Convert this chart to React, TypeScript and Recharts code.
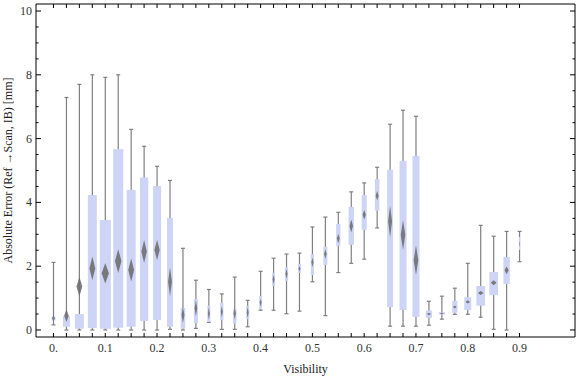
import React from "react";
import { ComposedChart, Bar, Line, XAxis, YAxis } from "recharts";

// visibility bins (x categories)
const visibility = [
  0, 0.025, 0.05, 0.075, 0.1, 0.125, 0.15, 0.175, 0.2, 0.225, 0.25, 0.275,
  0.3, 0.325, 0.35, 0.375, 0.4, 0.425, 0.45, 0.475, 0.5, 0.525, 0.55, 0.575,
  0.6, 0.625, 0.65, 0.675, 0.7, 0.725, 0.75, 0.775, 0.8, 0.825, 0.85, 0.875, 0.9,
];

// whisker ends, quartiles, mean and mean confidence half-width (mm)
const whiskerLow = [
  0.16, 0, 0, 0, 0, 0, 0, 0, 0, 0.02, 0, 0.05, 0.24, 0.02, 0.02, 0.1, 0.62,
  0.62, 0.51, 0.59, 1.51, 0.45, 1.8, 2.09, 2.22, 3.2, 0.12, 0.12, 0.12, 0.15,
  0.34, 0.49, 0.49, 0.4, 0.02, 0, 2.14,
];
const quartile1 = [
  0.3, 0.1, 0.04, 0.06, 0.04, 0.07, 0.1, 0.28, 0.31, 0.1, 0.04, 0.22, 0.25,
  0.31, 0.2, 0.34, 0.65, 1.39, 1.54, 1.79, 1.72, 2.04, 2.64, 2.67, 3.14, 3.74,
  0.72, 0.63, 0.41, 0.38, 0.48, 0.54, 0.63, 0.76, 1.09, 1.44, 2.51,
];
const meanValue = [
  0.37, 0.45, 1.36, 1.93, 1.78, 2.16, 1.88, 2.46, 2.51, 1.51, 0.47, 0.68, 0.52,
  0.57, 0.52, 0.55, 0.86, 1.58, 1.76, 1.92, 2.12, 2.38, 2.87, 3.26, 3.61, 4.21,
  3.4, 2.98, 2.19, 0.5, 0.52, 0.72, 0.88, 1.16, 1.48, 1.87, 2.7,
];
const quartile3 = [
  0.42, 0.44, 0.5, 4.23, 3.45, 5.67, 4.39, 4.78, 4.51, 3.51, 0.69, 0.97, 0.76,
  0.85, 0.66, 0.75, 1.07, 1.79, 1.97, 2.07, 2.38, 2.61, 3.32, 3.86, 4.23, 4.73,
  5.02, 5.3, 5.45, 0.61, 0.56, 0.91, 1.03, 1.38, 1.82, 2.29, 2.92,
];
const whiskerHigh = [
  2.12, 7.29, 7.7, 8.0, 7.92, 8.0, 6.29, 5.76, 5.13, 4.69, 2.56, 1.56, 1.27,
  1.13, 1.66, 0.93, 1.84, 2.25, 2.38, 2.41, 3.23, 3.54, 3.69, 4.33, 4.61, 5.1,
  6.45, 6.89, 6.7, 0.9, 1.06, 1.31, 2.09, 3.28, 2.94, 3.09, 3.09,
];
const meanCI = [
  0.1, 0.2, 0.3, 0.37, 0.32, 0.37, 0.36, 0.36, 0.32, 0.45, 0.25, 0.25, 0.2,
  0.18, 0.2, 0.18, 0.12, 0.15, 0.15, 0.08, 0.15, 0.15, 0.15, 0.2, 0.15, 0.15,
  0.5, 0.47, 0.47, 0.04, 0.03, 0.05, 0.05, 0.06, 0.08, 0.12, 0.1,
];
// relative sample weight of each bin (drives box width)
const sampleWeight = [
  0.31, 0.54, 0.69, 0.69, 0.85, 0.77, 0.69, 0.64, 0.62, 0.46, 0.35, 0.31, 0.23,
  0.25, 0.27, 0.23, 0.23, 0.23, 0.25, 0.23, 0.25, 0.31, 0.33, 0.41, 0.39, 0.35,
  0.46, 0.54, 0.54, 0.49, 0.46, 0.41, 0.54, 0.67, 0.67, 0.49, 0.08,
];

const xTickLabels = ["0.", "0.1", "0.2", "0.3", "0.4", "0.5", "0.6", "0.7", "0.8", "0.9"];
const yTicks = [
  0, 0.5, 1, 1.5, 2, 2.5, 3, 3.5, 4, 4.5, 5, 5.5, 6, 6.5, 7, 7.5, 8, 8.5, 9, 9.5, 10,
];
const yLabeled = [0, 2, 4, 6, 8, 10];

const data = visibility.map((v, i) => ({
  vis: String(v),
  lo: whiskerLow[i],
  q1: quartile1[i],
  mean: meanValue[i],
  q3: quartile3[i],
  hi: whiskerHigh[i],
  ci: meanCI[i],
  w: sampleWeight[i],
}));

const FONT = '"Liberation Serif", "Times New Roman", serif';
const WHISKER = "#7f7f7f";
const BOX = "#cdd4f6";
const DIAMOND = "#6f6f6f";

function BoxWhisker(props: any) {
  const { x, y, width, height, payload } = props;
  if (!payload || height == null) return null;
  const { lo, q1, mean, q3, hi, ci, w } = payload;
  const k = height / (hi - lo);
  const py = (v: number) => y + (hi - v) * k;
  const cx = x + width / 2;
  const bw = Math.max(w * width, 1);
  const dw = bw * 0.65;
  return (
    <g>
      <line x1={cx} x2={cx} y1={py(hi)} y2={py(lo)} stroke={WHISKER} strokeWidth={1.2} />
      <line x1={cx - 2} x2={cx + 2} y1={py(hi)} y2={py(hi)} stroke={WHISKER} strokeWidth={1.2} />
      <line x1={cx - 2} x2={cx + 2} y1={py(lo)} y2={py(lo)} stroke={WHISKER} strokeWidth={1.2} />
      <rect x={cx - bw / 2} y={py(q3)} width={bw} height={Math.max(py(q1) - py(q3), 1)} fill={BOX} />
      <polygon
        points={`${cx},${py(mean + ci)} ${cx + dw / 2},${py(mean)} ${cx},${py(mean - ci)} ${cx - dw / 2},${py(mean)}`}
        fill={DIAMOND}
        opacity={0.9}
        filter="url(#soft)"
      />
    </g>
  );
}

function BottomTick(props: any) {
  const { x, y, payload } = props;
  const i = payload.index;
  return (
    <g>
      <line x1={x} x2={x} y1={y} y2={y - 4} stroke="#000" />
      {i % 4 === 0 && (
        <text x={x} y={y + 15} textAnchor="middle" fontFamily={FONT} fontSize={12} fill="#333">
          {xTickLabels[i / 4]}
        </text>
      )}
    </g>
  );
}

function TopTick(props: any) {
  const { x, y } = props;
  return <line x1={x} x2={x} y1={y} y2={y + 4} stroke="#000" />;
}

function LeftTick(props: any) {
  const { x, y, payload } = props;
  const major = yLabeled.includes(payload.value);
  return (
    <g>
      <line x1={x} x2={x + (major ? 5 : 2.5)} y1={y} y2={y} stroke="#000" />
      {major && (
        <text x={x - 4} y={y + 4} textAnchor="end" fontFamily={FONT} fontSize={12} fill="#333">
          {payload.value}
        </text>
      )}
    </g>
  );
}

function RightTick(props: any) {
  const { x, y, payload } = props;
  const major = yLabeled.includes(payload.value);
  return <line x1={x} x2={x - (major ? 5 : 2.5)} y1={y} y2={y} stroke="#000" />;
}

function YLabel(props: any) {
  const { viewBox } = props;
  const cx = viewBox.x + 8;
  const cy = viewBox.y + viewBox.height / 2;
  return (
    <text
      x={cx}
      y={cy}
      transform={`rotate(-90, ${cx}, ${cy})`}
      textAnchor="middle"
      dominantBaseline="central"
      fontFamily={FONT}
      fontSize={12}
      fill="#222"
    >
      Absolute Error (Ref →Scan, IB) [mm]
    </text>
  );
}

function XLabel(props: any) {
  const { viewBox } = props;
  return (
    <text
      x={viewBox.x + viewBox.width / 2}
      y={viewBox.y + 36}
      textAnchor="middle"
      fontFamily={FONT}
      fontSize={12}
      fill="#222"
    >
      Visibility
    </text>
  );
}

export default function App() {
  return (
    <div style={{ position: "absolute", left: 0, top: 0, background: "#fff" }}>
      <svg width={0} height={0} style={{ position: "absolute" }}>
        <defs>
          <filter id="soft" x="-50%" y="-50%" width="200%" height="200%">
            <feGaussianBlur stdDeviation="0.5" />
          </filter>
        </defs>
      </svg>
      <ComposedChart
        width={576}
        height={377}
        data={data}
        margin={{ top: 3, right: 0, bottom: 0, left: 0 }}
        barCategoryGap={0}
        barGap={0}
      >
        <XAxis
          dataKey="vis"
          type="category"
          height={40}
          padding={{ left: 11, right: 49 }}
          interval={0}
          tickSize={0}
          tickMargin={0}
          tickLine={false}
          axisLine={{ stroke: "#000" }}
          tick={<BottomTick />}
          label={<XLabel />}
        />
        <XAxis
          xAxisId="top"
          dataKey="vis"
          type="category"
          orientation="top"
          height={1}
          padding={{ left: 11, right: 49 }}
          interval={0}
          tickSize={0}
          tickMargin={0}
          tickLine={false}
          axisLine={{ stroke: "#000" }}
          tick={<TopTick />}
        />
        <YAxis
          type="number"
          domain={[-0.22, 10.22]}
          ticks={yTicks}
          interval={0}
          width={36}
          tickSize={0}
          tickMargin={0}
          tickLine={false}
          axisLine={{ stroke: "#000" }}
          tick={<LeftTick />}
          allowDataOverflow
          label={<YLabel />}
        />
        <YAxis
          yAxisId="r"
          orientation="right"
          type="number"
          domain={[-0.22, 10.22]}
          ticks={yTicks}
          interval={0}
          width={1}
          tickSize={0}
          tickMargin={0}
          tickLine={false}
          axisLine={{ stroke: "#000" }}
          tick={<RightTick />}
          allowDataOverflow
        />
        <Line
          xAxisId="top"
          yAxisId="r"
          dataKey="mean"
          stroke="none"
          dot={false}
          activeDot={false}
          isAnimationActive={false}
        />
        <Bar
          dataKey={(d: any) => [d.lo, d.hi]}
          shape={(p: any) => <BoxWhisker {...p} />}
          isAnimationActive={false}
        />
      </ComposedChart>
    </div>
  );
}
